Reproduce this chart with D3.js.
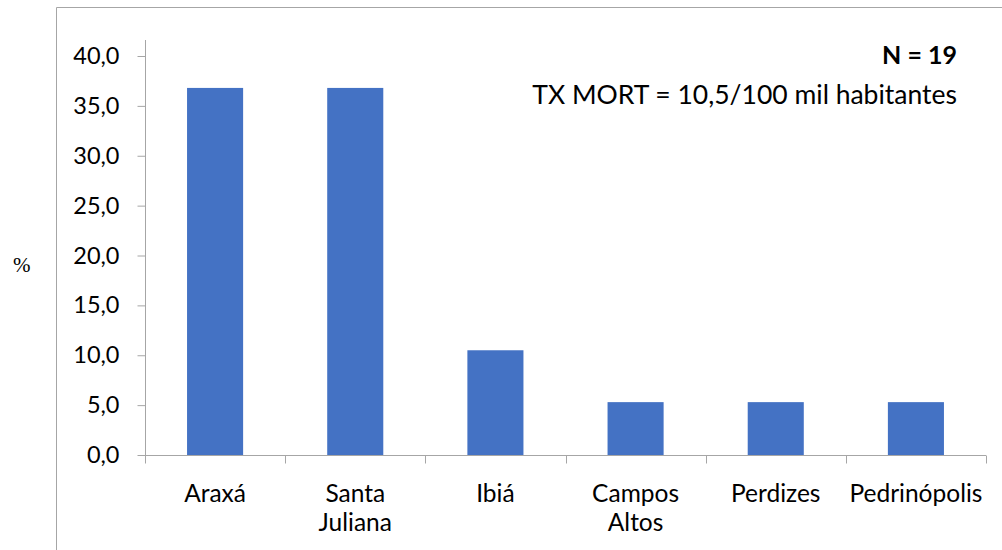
<!DOCTYPE html>
<html>
<head>
<meta charset="utf-8">
<script src="https://cdn.jsdelivr.net/npm/d3@7"></script>
<style>
  html, body { margin: 0; padding: 0; background: #fff; }
  svg { display: block; font-family: Lato, "Open Sans", sans-serif; }
</style>
</head>
<body>
<svg id="chart" width="1002" height="550"></svg>
<script>
const categories = [['Araxá'], ['Santa', 'Juliana'], ['Ibiá'], ['Campos', 'Altos'], ['Perdizes'], ['Pedrinópolis']];
const values = [36.8, 36.8, 10.5, 5.3, 5.3, 5.3];
const yTicks = [0, 5, 10, 15, 20, 25, 30, 35, 40];

const svg = d3.select('#chart');
const M = { left: 145, right: 986, top: 56, bottom: 455 };
const keys = categories.map((c) => c.join(' '));

// chart area frame (only left and top edges visible)
svg.append('path')
  .attr('d', 'M56.5,550 V7.5 H1002')
  .attr('fill', 'none')
  .attr('stroke', '#a6a6a6')
  .attr('stroke-width', 1);

const x = d3.scaleBand().domain(keys).range([M.left, M.right]).paddingInner(0.6).paddingOuter(0.3);
const xOuter = d3.scaleBand().domain(keys).range([M.left, M.right]);
const y = d3.scaleLinear().domain([0, 40]).range([M.bottom, M.top]);

// y axis
const yAxis = svg.append('g')
  .attr('transform', 'translate(' + (M.left + 0.5) + ',0)')
  .call(d3.axisLeft(y).tickValues(yTicks).tickSize(8).tickPadding(18)
    .tickFormat((d) => d3.format('.1f')(d).replace('.', ',')));
yAxis.select('.domain').attr('stroke', '#a6a6a6').attr('d', 'M0,' + (M.top - 16) + 'V' + (M.bottom + 0.5));
yAxis.selectAll('.tick line').attr('stroke', '#a6a6a6');
yAxis.selectAll('.tick text').attr('font-size', 23.5).attr('fill', '#000').attr('font-family', 'Lato, sans-serif');

// bars
svg.append('g').selectAll('rect')
  .data(values)
  .join('rect')
  .attr('x', (d, i) => x(keys[i]))
  .attr('y', (d) => y(d))
  .attr('width', x.bandwidth())
  .attr('height', (d) => y(0) - y(d))
  .attr('fill', '#4472c4');

// x axis
const xg = svg.append('g').attr('transform', 'translate(0,' + (M.bottom + 0.5) + ')');
xg.append('line').attr('x1', M.left).attr('x2', M.right).attr('stroke', '#a6a6a6');
const edges = keys.map((k) => xOuter(k)).concat([M.right]);
xg.selectAll('.tk').data(edges).join('line')
  .attr('x1', (d) => Math.round(d) + 0.5).attr('x2', (d) => Math.round(d) + 0.5)
  .attr('y1', 0).attr('y2', 8).attr('stroke', '#a6a6a6');

const labels = xg.selectAll('.lbl').data(categories).join('text')
  .attr('text-anchor', 'middle')
  .attr('font-size', 24.5)
  .attr('fill', '#000')
  .attr('transform', (d, i) => 'translate(' + (xOuter(keys[i]) + xOuter.bandwidth() / 2) + ',46)');
labels.selectAll('tspan').data((d) => d).join('tspan')
  .attr('x', 0).attr('dy', (d, i) => (i === 0 ? 0 : 29)).text((d) => d);

// y label
svg.append('text').attr('x', 13).attr('y', 272)
  .attr('font-family', '"Liberation Serif", serif').attr('font-size', 21).text('%');

// annotations
svg.append('text').attr('x', 957).attr('y', 64).attr('text-anchor', 'end')
  .attr('font-size', 25).attr('font-weight', 'bold').text('N = 19');
svg.append('text').attr('x', 957).attr('y', 104).attr('text-anchor', 'end')
  .attr('font-size', 26.5).text('TX MORT = 10,5/100 mil habitantes');
</script>
</body>
</html>
